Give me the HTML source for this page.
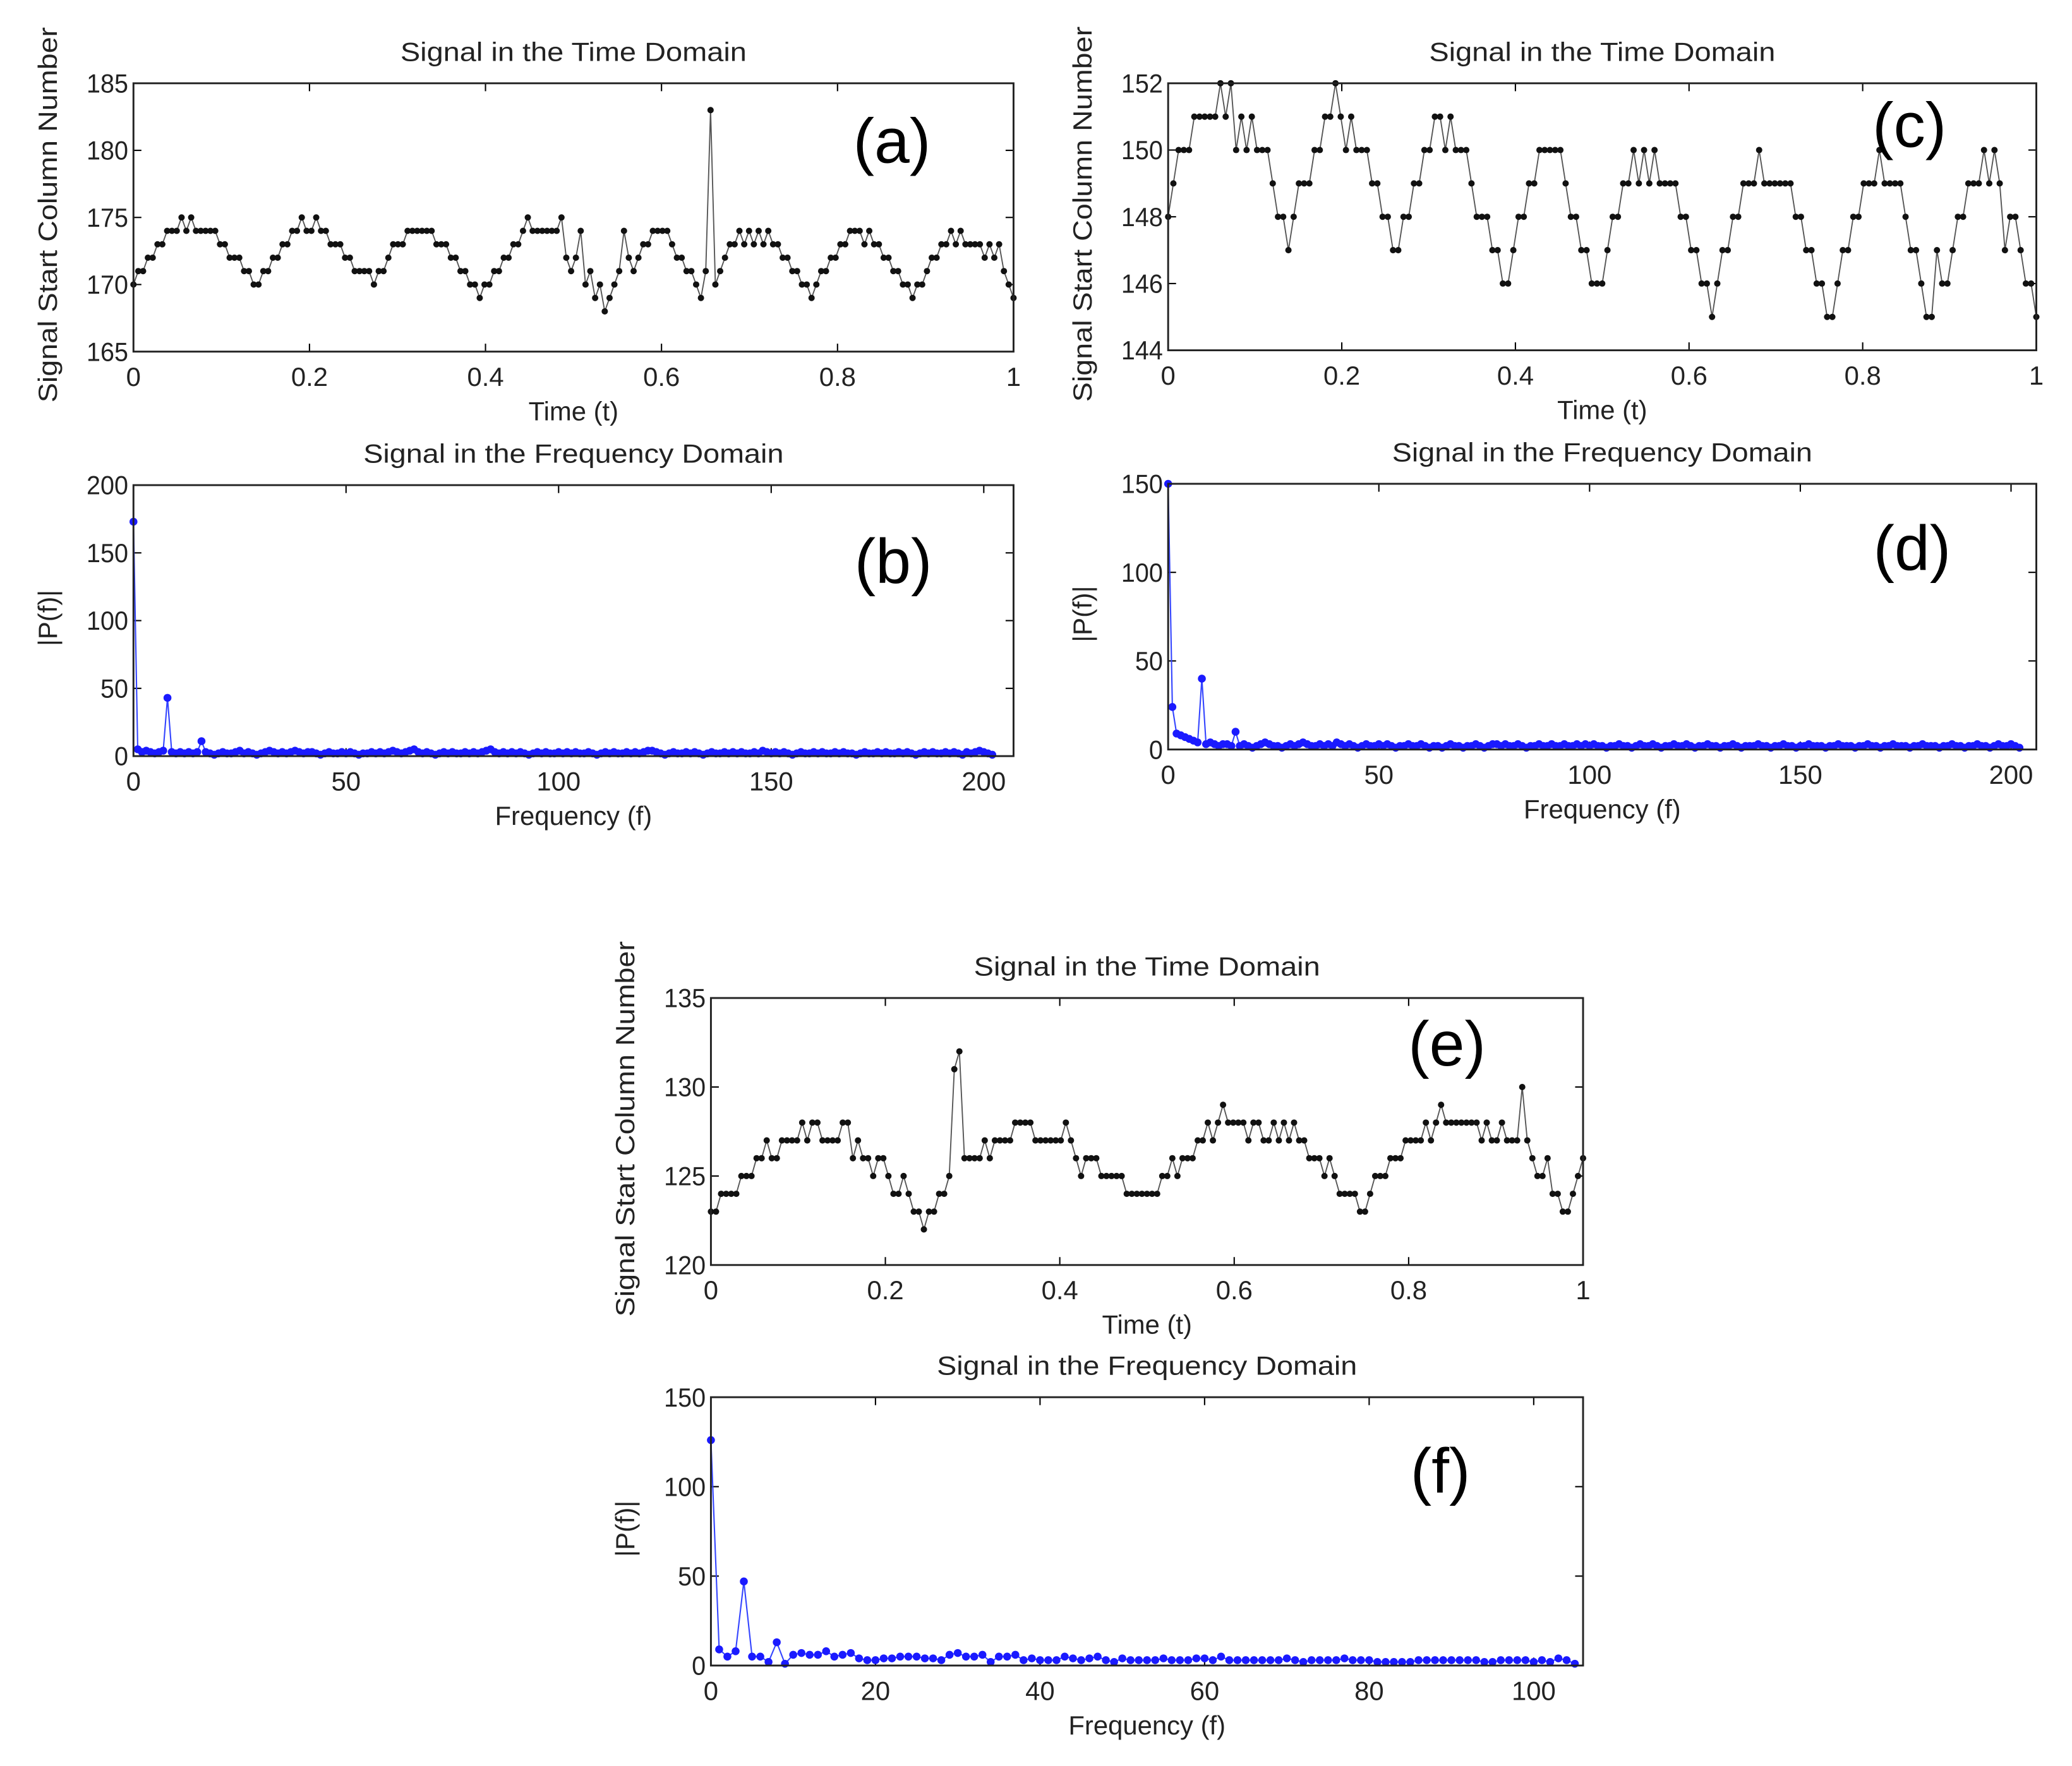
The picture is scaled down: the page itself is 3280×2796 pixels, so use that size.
<!DOCTYPE html>
<html><head><meta charset="utf-8"><style>
html,body{margin:0;padding:0;background:#fff;}
svg{display:block;font-family:"Liberation Sans",sans-serif;}
</style></head><body>
<svg id="fig" width="3280" height="2796" viewBox="0 0 1568 1336" preserveAspectRatio="none" xmlns="http://www.w3.org/2000/svg"></svg>
<script>
const seriesA=[170,171,171,172,172,173,173,174,174,174,175,174,175,174,174,174,174,174,173,173,172,172,172,171,171,170,170,171,171,172,172,173,173,174,174,175,174,174,175,174,174,173,173,173,172,172,171,171,171,171,170,171,171,172,173,173,173,174,174,174,174,174,174,173,173,173,172,172,171,171,170,170,169,170,170,171,171,172,172,173,173,174,175,174,174,174,174,174,174,175,172,171,172,174,170,171,169,170,168,169,170,171,174,172,171,172,173,173,174,174,174,174,173,172,172,171,171,170,169,171,183,170,171,172,173,173,174,173,174,173,174,173,174,173,173,172,172,171,171,170,170,169,170,171,171,172,172,173,173,174,174,174,173,174,173,173,172,172,171,171,170,170,169,170,170,171,172,172,173,173,174,173,174,173,173,173,173,172,173,172,173,171,170,169];
const seriesC=[148,149,150,150,150,151,151,151,151,151,152,151,152,150,151,150,151,150,150,150,149,148,148,147,148,149,149,149,150,150,151,151,152,151,150,151,150,150,150,149,149,148,148,147,147,148,148,149,149,150,150,151,151,150,151,150,150,150,149,148,148,148,147,147,146,146,147,148,148,149,149,150,150,150,150,150,149,148,148,147,147,146,146,146,147,148,148,149,149,150,149,150,149,150,149,149,149,149,148,148,147,147,146,146,145,146,147,147,148,148,149,149,149,150,149,149,149,149,149,149,148,148,147,147,146,146,145,145,146,147,147,148,148,149,149,149,150,149,149,149,149,148,147,147,146,145,145,147,146,146,147,148,148,149,149,149,150,149,150,149,147,148,148,147,146,146,145];
const seriesE=[123,123,124,124,124,124,125,125,125,126,126,127,126,126,127,127,127,127,128,127,128,128,127,127,127,127,128,128,126,127,126,126,125,126,126,125,124,124,125,124,123,123,122,123,123,124,124,125,131,132,126,126,126,126,127,126,127,127,127,127,128,128,128,128,127,127,127,127,127,127,128,127,126,125,126,126,126,125,125,125,125,125,124,124,124,124,124,124,124,125,125,126,125,126,126,126,127,127,128,127,128,129,128,128,128,128,127,128,128,127,127,128,127,128,127,128,127,127,126,126,126,125,126,125,124,124,124,124,123,123,124,125,125,125,126,126,126,127,127,127,127,128,127,128,129,128,128,128,128,128,128,128,127,128,127,127,128,127,127,127,130,127,126,125,125,126,124,124,123,123,124,125,126];
const spectrumB=[173,5,3,4,3,2,3,4,43,3,2,3,2,3,2,3,11,3,2,1,2,3,2,2,3,4,2,3,2,1,2,3,4,3,2,3,2,3,4,3,2,3,3,2,1,2,3,2,2,3,2,3,2,1,2,2,3,2,3,2,3,4,3,2,3,4,5,3,2,3,2,1,2,3,2,3,2,2,3,2,3,2,3,4,5,3,2,3,2,3,2,3,2,1,2,3,2,3,2,2,3,2,3,2,3,2,2,3,2,1,2,3,2,3,2,2,3,2,3,2,3,4,4,3,2,1,2,3,2,2,3,2,3,2,1,2,3,2,2,3,2,3,2,3,2,2,3,2,4,3,2,3,2,3,2,1,2,3,2,2,3,2,3,2,2,3,2,3,2,2,1,2,3,2,2,3,2,3,2,2,3,2,3,2,1,2,3,2,3,2,2,3,2,3,2,1,3,2,3,4,3,2,1];
const spectrumD=[150,24,9,8,7,6,5,4,40,3,4,3,2,3,3,2,10,2,3,2,1,2,3,4,3,2,2,1,2,3,2,3,4,3,2,2,3,2,3,2,4,3,2,3,2,1,2,3,2,2,3,2,3,2,1,2,2,3,2,2,3,2,1,2,2,1,2,3,2,2,1,2,2,3,2,1,2,3,3,2,3,2,2,3,2,1,2,2,3,2,2,3,2,2,3,2,2,3,2,3,2,3,2,2,1,2,2,3,2,2,1,2,3,2,2,3,2,1,2,2,3,2,2,3,2,1,2,2,3,2,2,1,2,2,3,2,1,2,2,2,3,2,2,1,2,2,3,2,2,1,2,2,3,2,2,2,1,2,2,3,2,2,2,1,2,2,3,2,2,1,2,2,3,2,2,2,1,2,2,3,2,2,2,1,2,2,3,2,2,1,2,2,3,2,2,1,2,3,2,2,3,2,1];
const spectrumF=[126,9,5,8,47,5,5,2,13,1,6,7,6,6,8,5,6,7,4,3,3,4,4,5,5,5,4,4,3,6,7,5,5,6,2,5,5,6,3,4,3,3,3,5,4,3,4,5,3,2,4,3,3,3,3,4,3,3,3,4,4,3,5,3,3,3,3,3,3,3,4,3,2,3,3,3,3,4,3,3,3,2,2,2,2,2,3,3,3,3,3,3,3,3,2,2,3,3,3,3,2,3,2,4,3,1];
const ticksA=[165,170,175,180,185], ticksC=[144,146,148,150,152], ticksE=[120,125,130,135];
const ticksTime=[0,0.2,0.4,0.6,0.8,1];
const ticksB=[0,50,100,150,200], ticksD=[0,50,100,150], ticksF=[0,50,100,150];
const ticksFreq=[0,50,100,150,200], ticksFreqF=[0,20,40,60,80,100];

const svg=document.getElementById('fig');
const NS='http://www.w3.org/2000/svg';
function mk(tag,attrs,parent){const e=document.createElementNS(NS,tag);for(const k in attrs)e.setAttribute(k,attrs[k]);(parent||svg).appendChild(e);return e;}
function fmt(v){return String(Math.round(v*10)/10);}

function panel(p){
  const g=mk('g',{});
  
  
  const sx=v=>p.x0+(v-p.xmin)/(p.xmax-p.xmin)*(p.x1-p.x0);
  const sy=v=>p.y1-(v-p.ymin)/(p.ymax-p.ymin)*(p.y1-p.y0);
  p.yt.forEach(v=>{
    const y=sy(v);
    const t1=mk('line',{x1:p.x0,y1:y,x2:p.x0+6,y2:y,stroke:'#000','stroke-width':1},g);
    
    
    mk('line',{x1:p.x1,y1:y,x2:p.x1-6,y2:y,stroke:'#000','stroke-width':1},g);
    const tx=mk('text',{x:p.x0-4,y:y+7,'font-size':20,'text-anchor':'end',fill:'#222','textLength':String(fmt(v)).length*10.5,'lengthAdjust':'spacingAndGlyphs'},g);
    tx.textContent=fmt(v);
    
    
  });
  p.xt.forEach(v=>{
    const x=sx(v);
    mk('line',{x1:x,y1:p.y1,x2:x,y2:p.y1-6,stroke:'#000','stroke-width':1},g);
    mk('line',{x1:x,y1:p.y0,x2:x,y2:p.y0+6,stroke:'#000','stroke-width':1},g);
    const tx=mk('text',{x:x,y:p.y1+26,'font-size':20,'text-anchor':'middle',fill:'#222'},g);
    tx.textContent=fmt(v);
    
    
  });
  const n=p.data.length;
  const xv=i=>p.freq?i:i/(n-1);
  let d='';
  p.data.forEach((v,i)=>{d+=(i?'L':'M')+sx(xv(i)).toFixed(2)+','+sy(v).toFixed(2);});
  const line=mk('path',{d:d,fill:'none',stroke:p.freq?'#3344ff':'#555','stroke-width':p.freq?1:0.9},g);
  
  
  p.data.forEach((v,i)=>{
    const c=mk('circle',{cx:sx(xv(i)),cy:sy(v),r:p.freq?3:2.4,fill:p.freq?'#1a1aff':'#111'},g);
    
    
  });
  const box=mk('rect',{x:p.x0,y:p.y0,width:p.x1-p.x0,height:p.y1-p.y0,fill:'none',stroke:'#222','stroke-width':1.4},g);
  
  
  const ti=mk('text',{x:(p.x0+p.x1)/2,y:p.y0-17,'font-size':20,'text-anchor':'middle',fill:'#222','textLength':p.freq?318:262,'lengthAdjust':'spacingAndGlyphs'},g);
  ti.textContent=p.freq?'Signal in the Frequency Domain':'Signal in the Time Domain';
  
  
  const xl=mk('text',{x:(p.x0+p.x1)/2,y:p.y1+52,'font-size':20,'text-anchor':'middle',fill:'#222'},g);
  xl.textContent=p.freq?'Frequency (f)':'Time (t)';
  
  
  const ycx=p.x0-58, ycy=(p.y0+p.y1)/2-2;
  const yl=mk('text',{x:ycx,y:ycy,'font-size':20,'text-anchor':'middle',fill:'#222',transform:'rotate(-90 '+ycx+' '+ycy+')'},g);
  yl.textContent=p.freq?'|P(f)|':'Signal Start Column Number';
  if(!p.freq){yl.setAttribute('textLength','284');yl.setAttribute('lengthAdjust','spacingAndGlyphs');}
  
  
  const lb=mk('text',{x:p.lx,y:p.ly,'font-size':48,'text-anchor':'middle',fill:'#000'},g);
  lb.textContent=p.label;
  
  
}
panel({name:'panel-a',x0:101,x1:767,y0:63,y1:266,xmin:0,xmax:1,ymin:165,ymax:185,yt:ticksA,xt:ticksTime,data:seriesA,freq:false,label:'(a)',lx:675,ly:123});
panel({name:'panel-b',x0:101,x1:767,y0:367,y1:572,xmin:0,xmax:207,ymin:0,ymax:200,yt:ticksB,xt:ticksFreq,data:spectrumB,freq:true,label:'(b)',lx:676,ly:441});
panel({name:'panel-c',x0:884,x1:1541,y0:63,y1:265,xmin:0,xmax:1,ymin:144,ymax:152,yt:ticksC,xt:ticksTime,data:seriesC,freq:false,label:'(c)',lx:1445,ly:111});
panel({name:'panel-d',x0:884,x1:1541,y0:366,y1:567,xmin:0,xmax:206,ymin:0,ymax:150,yt:ticksD,xt:ticksFreq,data:spectrumD,freq:true,label:'(d)',lx:1447,ly:431});
panel({name:'panel-e',x0:538,x1:1198,y0:755,y1:957,xmin:0,xmax:1,ymin:120,ymax:135,yt:ticksE,xt:ticksTime,data:seriesE,freq:false,label:'(e)',lx:1095,ly:806});
panel({name:'panel-f',x0:538,x1:1198,y0:1057,y1:1260,xmin:0,xmax:106,ymin:0,ymax:150,yt:ticksF,xt:ticksFreqF,data:spectrumF,freq:true,label:'(f)',lx:1090,ly:1129});
</script>
</body></html>
